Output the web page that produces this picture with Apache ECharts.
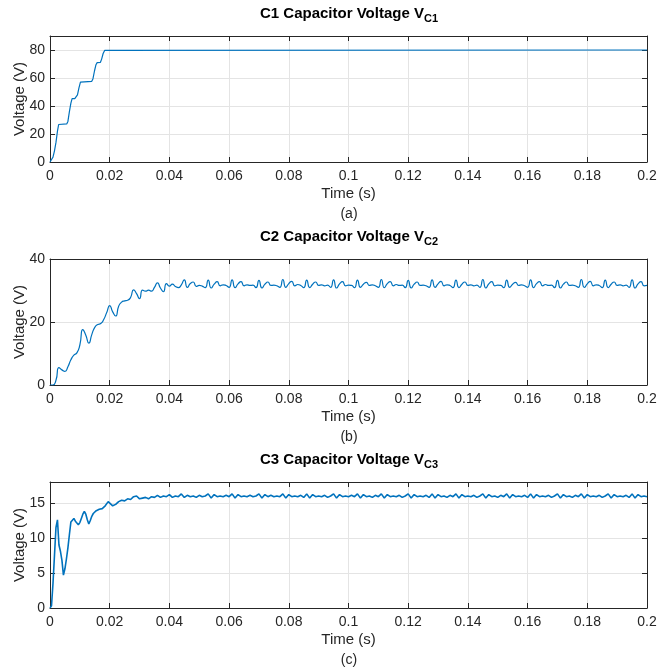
<!DOCTYPE html>
<html>
<head>
<meta charset="utf-8">
<script src="https://cdn.jsdelivr.net/npm/echarts@6/dist/echarts.min.js"></script>
<style>
  html, body { margin: 0; padding: 0; background: #fff; }
  #chart { width: 658px; height: 670px; }
</style>
</head>
<body>
<div id="chart"></div>
<script>
// x axis ticks (s)
var timeMin = 0
var timeMax = 0.2
var timeStep = 0.02

// C1: breakpoints (s) and voltage (V)
var t1 = [0, 0.0005, 0.001, 0.0015, 0.002, 0.0025, 0.0029, 0.0033, 0.0056, 0.006,
  0.0065, 0.007, 0.0074, 0.0078, 0.0083, 0.0088, 0.0092, 0.0097, 0.0102, 0.0107,
  0.014, 0.0144, 0.0149, 0.0154, 0.0158, 0.0162, 0.0169, 0.0173, 0.0178, 0.0183,
  0.0188, 0.2]
var v1 = [0, 1, 3.5, 8, 14, 22, 26.8, 27.2, 27.2, 29,
  36, 42, 45.2, 46, 45.3, 45.8, 48, 53, 57, 57.6,
  57.6, 59.5, 65, 69.5, 71, 71, 71.2, 73.5, 77.5, 79.7,
  80, 80]

// C2: sampled every 1 ms from 0 to 0.2 s
var dt2 = 0.001
var v2 = [
  0, 0, 1.5, 5.5, 4.8, 4.3, 5.8, 8.0, 9.5, 10.2,
  12.7, 17.6, 15.8, 13.3, 16.0, 18.3, 19.2, 19.5, 20.8, 23.0,
  25.2, 23.2, 21.9, 25.0, 26.3, 26.7, 26.9, 27.8, 30.2, 29.0,
  27.4, 30.1, 29.8, 30.1, 29.8, 31.0, 32.4, 30.8, 29.6, 32.2,
  31.4, 32.0, 31.3, 30.9, 31.8, 33.4, 31.0, 32.2, 32.7, 31.3,
  31.6, 31.4, 30.9, 33.3, 30.8, 32.0, 32.8, 31.5, 31.8, 31.6,
  31.0, 33.4, 30.9, 32.1, 32.8, 31.5, 31.8, 31.6, 31.7, 30.9,
  33.2, 30.8, 32.0, 32.7, 31.6, 31.7, 31.5, 31.0, 33.5, 31.0,
  32.2, 32.9, 31.5, 31.9, 31.6, 30.9, 33.3, 30.9, 32.0, 32.7,
  31.6, 31.8, 31.5, 31.7, 31.0, 33.4, 30.8, 32.1, 32.8, 31.5,
  31.7, 31.6, 30.9, 33.3, 31.0, 32.0, 32.6, 31.6, 31.8, 31.5,
  31.0, 33.5, 30.9, 32.2, 32.8, 31.5, 31.9, 31.6, 31.7, 30.9,
  33.2, 30.8, 32.0, 32.7, 31.6, 31.7, 31.5, 31.0, 33.4, 31.0,
  32.1, 32.9, 31.5, 31.8, 31.6, 30.9, 33.3, 30.9, 32.0, 32.7,
  31.6, 31.8, 31.5, 31.7, 31.0, 33.5, 30.8, 32.1, 32.8, 31.5,
  31.7, 31.6, 30.9, 33.3, 31.0, 32.0, 32.6, 31.6, 31.8, 31.5,
  31.0, 33.4, 30.9, 32.2, 32.8, 31.5, 31.9, 31.6, 31.7, 30.9,
  33.2, 30.8, 32.0, 32.7, 31.6, 31.7, 31.5, 31.0, 33.5, 31.0,
  32.1, 32.9, 31.5, 31.8, 31.6, 30.9, 33.3, 30.9, 32.0, 32.7,
  31.6, 31.8, 31.5, 31.7, 31.0, 33.4, 30.8, 32.1, 32.8, 31.5,
  31.6
]

// C3: every 0.5 ms up to 0.02 s, then every 1 ms
var dt3a = 0.0005
var v3a = [
  0, 0.3, 3.5, 7.5, 11.5, 12.6, 9.0, 8.1, 6.8, 4.7,
  5.6, 7.0, 8.6, 10.5, 12.3, 12.5, 12.8, 12.4, 12.2, 11.9,
  12.2, 12.8, 13.4, 13.8, 13.4, 12.6, 12.0, 12.5, 13.1, 13.5,
  13.7, 13.9, 14.0, 14.1, 14.0, 14.2, 14.3, 14.6, 14.8, 15.2,
  15.3
]
var dt3b = 0.001
var v3b = [
  14.6, 14.8, 15.2, 15.4, 15.3, 15.6, 15.5, 15.9, 16.0, 15.6,
  15.7, 15.8, 15.6, 15.9, 15.8, 16.1, 15.8, 16.0, 15.9, 16.2,
  15.8, 16.0, 15.9, 16.3, 15.8, 16.1, 15.9, 16.0, 15.8, 16.1,
  15.9, 16.0, 16.3, 15.7, 16.2, 15.9, 16.0, 15.9, 16.1, 15.9,
  16.3, 15.7, 16.2, 15.9, 16.0, 15.9, 16.1, 15.9, 16.0, 16.3,
  15.7, 16.2, 15.9, 16.1, 15.9, 16.0, 15.9, 16.3, 15.7, 16.2,
  15.9, 16.0, 15.9, 16.1, 15.8, 16.3, 15.7, 16.2, 15.9, 16.0,
  15.9, 16.1, 15.8, 16.0, 16.3, 15.7, 16.2, 15.9, 16.0, 15.9,
  16.1, 15.9, 16.3, 15.7, 16.2, 15.9, 16.0, 15.8, 16.1, 15.9,
  16.3, 15.7, 16.2, 15.9, 16.0, 15.9, 16.1, 15.8, 16.0, 16.3,
  15.7, 16.2, 15.9, 16.0, 15.9, 16.1, 15.8, 16.3, 15.7, 16.2,
  15.9, 16.0, 15.8, 16.1, 15.9, 16.3, 15.7, 16.2, 15.9, 16.0,
  15.9, 16.1, 15.8, 16.0, 16.3, 15.7, 16.2, 15.9, 16.0, 15.8,
  16.1, 15.9, 16.3, 15.7, 16.2, 15.9, 16.0, 15.9, 16.1, 15.8,
  16.3, 15.7, 16.2, 15.9, 16.0, 15.9, 16.1, 15.8, 16.0, 16.3,
  15.7, 16.2, 15.9, 16.0, 15.8, 16.1, 15.9, 16.3, 15.7, 16.2,
  15.9, 16.0, 15.9, 16.1, 15.8, 16.0, 16.3, 15.7, 16.2, 15.9,
  16.0, 15.9, 16.1, 15.8, 16.3, 15.7, 16.2, 15.9, 16.0, 15.9
]

// y axis ranges
var yMax = [90, 40, 18]
var yStep = [20, 20, 5]
var titles = ['C1', 'C2', 'C3']
var captions = ['(a)', '(b)', '(c)']

var FONT = '"Liberation Sans", Arial, Helvetica, sans-serif'
var INK = '#262626'
var BLUE = '#0072BD'

var gridTops = [36, 259, 482]
var gridH = 126

function pairs2(v) {
  return v.map(function (y, i) { return [+(i * dt2).toFixed(4), y] })
}
function pairs3() {
  var a = v3a.map(function (y, i) { return [+(i * dt3a).toFixed(4), y] })
  var b = v3b.map(function (y, i) { return [+(0.021 + i * dt3b).toFixed(4), y] })
  return a.concat(b)
}

var seriesData = [
  t1.map(function (t, i) { return [t, v1[i]] }),
  pairs2(v2),
  pairs3(),
]

var chart = echarts.init(document.getElementById('chart'))

var grid = [], xAxis = [], yAxis = [], series = [], graphic = []

for (var i = 0; i < 3; i++) {
  grid.push({ left: 50, right: 11, top: gridTops[i], height: gridH, containLabel: false, outerBoundsMode: 'none' })

  // bottom x axis
  xAxis.push({
    type: 'value', gridIndex: i, min: timeMin, max: timeMax, interval: timeStep,
    position: 'bottom',
    name: 'Time (s)', nameLocation: 'middle', nameGap: 24,
    nameTextStyle: { color: INK, fontSize: 15, fontFamily: FONT },
    axisLine: { show: true, onZero: false, lineStyle: { color: INK, width: 1 } },
    axisTick: { show: true, inside: true, length: 5, lineStyle: { color: INK } },
    axisLabel: { color: INK, fontSize: 14, fontFamily: FONT, margin: 7 },
    splitLine: { show: true, lineStyle: { color: '#e4e4e4', width: 1 } },
  })
  // top x axis (box)
  xAxis.push({
    type: 'value', gridIndex: i, min: timeMin, max: timeMax, interval: timeStep,
    position: 'top',
    axisLine: { show: true, onZero: false, lineStyle: { color: INK, width: 1 } },
    axisTick: { show: true, inside: true, length: 5, lineStyle: { color: INK } },
    axisLabel: { show: false },
    splitLine: { show: false },
  })
  // left y axis
  yAxis.push({
    type: 'value', gridIndex: i, min: 0, max: yMax[i], interval: yStep[i],
    position: 'left',
    name: 'Voltage (V)', nameLocation: 'middle', nameGap: 23, nameRotate: 90,
    nameMoveOverlap: false,
    nameTextStyle: { color: INK, fontSize: 15, fontFamily: FONT },
    axisLine: { show: true, onZero: false, lineStyle: { color: INK, width: 1 } },
    axisTick: { show: true, inside: true, length: 5, lineStyle: { color: INK } },
    axisLabel: { color: INK, fontSize: 14, fontFamily: FONT, margin: 5, showMaxLabel: yMax[i] % yStep[i] === 0 },
    splitLine: { show: true, lineStyle: { color: '#e4e4e4', width: 1 } },
  })
  // right y axis (box)
  yAxis.push({
    type: 'value', gridIndex: i, min: 0, max: yMax[i], interval: yStep[i],
    position: 'right',
    axisLine: { show: true, onZero: false, lineStyle: { color: INK, width: 1 } },
    axisTick: { show: true, inside: true, length: 5, lineStyle: { color: INK } },
    axisLabel: { show: false },
    splitLine: { show: false },
  })

  series.push({
    type: 'line',
    xAxisIndex: i * 2,
    yAxisIndex: i * 2,
    data: seriesData[i],
    showSymbol: false,
    smooth: i === 1 ? 0.6 : false,
    lineStyle: { color: BLUE, width: i === 2 ? 1.6 : 1.2 },
  })

  // panel title with subscript
  graphic.push({
    type: 'text',
    x: 349,
    y: gridTops[i] - 30,
    style: {
      text: '{a|' + titles[i] + ' Capacitor Voltage V}{b|' + titles[i] + '}',
      align: 'center',
      verticalAlign: 'top',
      rich: {
        a: { fontSize: 15, fontWeight: 'bold', fontFamily: FONT, fill: '#000', lineHeight: 16, verticalAlign: 'top' },
        b: { fontSize: 11, fontWeight: 'bold', fontFamily: FONT, fill: '#000', lineHeight: 12, padding: [7, 0, 0, 0], verticalAlign: 'top' },
      },
    },
  })
  // caption under the axis
  graphic.push({
    type: 'text',
    x: 349,
    y: gridTops[i] + gridH + 52,
    style: {
      text: captions[i],
      align: 'center',
      verticalAlign: 'middle',
      fontSize: 14,
      fontFamily: FONT,
      fill: INK,
    },
  })
}

var option = {
  backgroundColor: '#fff',
  animation: false,
  grid: grid,
  xAxis: xAxis,
  yAxis: yAxis,
  series: series,
  graphic: graphic,
}

chart.setOption(option)
</script>
</body>
</html>
